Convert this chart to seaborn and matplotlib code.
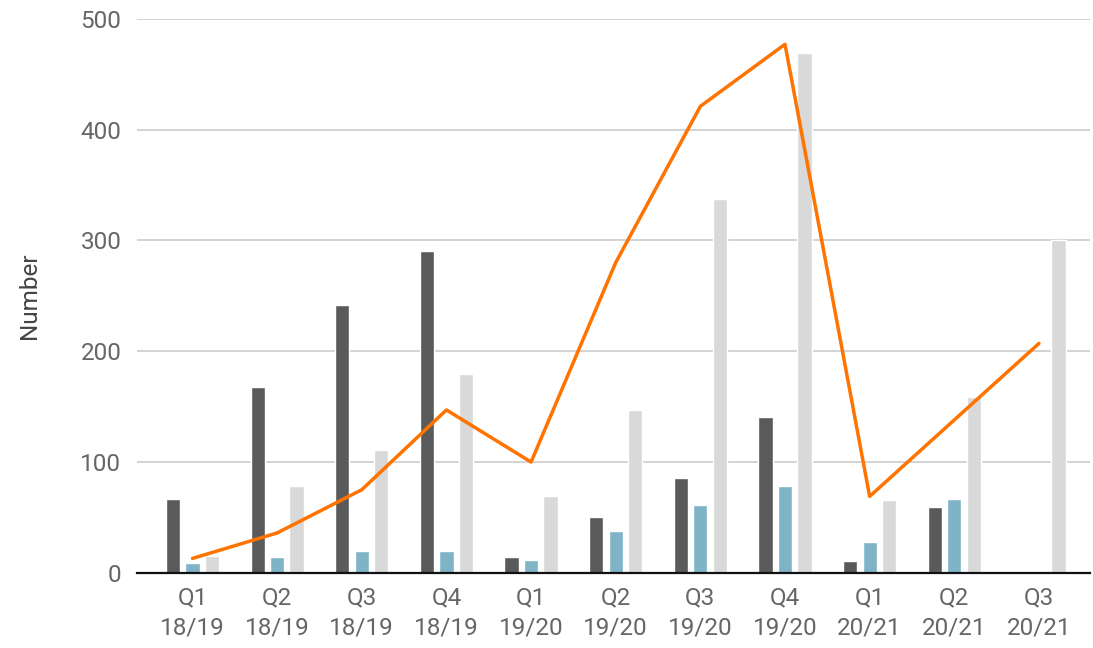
"""Quarterly numbers: three bar series plus an orange trend line."""
import matplotlib
matplotlib.use("Agg")
import matplotlib.pyplot as plt
import numpy as np
import pandas as pd
import seaborn as sns

quarters = ["Q1\n18/19", "Q2\n18/19", "Q3\n18/19", "Q4\n18/19",
            "Q1\n19/20", "Q2\n19/20", "Q3\n19/20", "Q4\n19/20",
            "Q1\n20/21", "Q2\n20/21", "Q3\n20/21"]
series_a = [67, 168, 242, 290, 14, 50, 86, 141, 11, 59, 0]
series_b = [9, 14, 20, 20, 12, 38, 61, 78, 28, 67, 0]
series_c = [15, 78, 111, 179, 69, 147, 337, 469, 66, 159, 300]
line_vals = [13, 36, 75, 147, 100, 280, 421, 477, 69, 138, 207]

bar_colors = {"a": "#5a5a5a", "b": "#7fb4c6", "c": "#d9d9d9"}

df = pd.DataFrame({
    "quarter": quarters * 3,
    "series": ["a"] * 11 + ["b"] * 11 + ["c"] * 11,
    "value": series_a + series_b + series_c,
})

sns.set_theme(style="white")
plt.rcParams["font.family"] = ["Roboto", "DejaVu Sans"]

fig = plt.figure(figsize=(10.93, 6.48), dpi=100)
ax = fig.add_axes([0.125, 0.116, 0.872, 0.855])

# light gridlines behind the bars
ax.set_axisbelow(True)
ax.yaxis.grid(True, color="#d0d0d0", linewidth=1.3)

sns.barplot(data=df, x="quarter", y="value", hue="series",
            hue_order=["a", "b", "c"], palette=bar_colors,
            width=0.69, gap=0.27, legend=False, ax=ax, saturation=1)

sns.lineplot(x=np.arange(len(quarters)), y=line_vals, color="#ff7300",
             linewidth=2.5, ax=ax, legend=False)

ax.set_ylim(0, 500)
ax.set_xlim(-0.66, 10.6)
ax.set_yticks(range(0, 501, 100))
ax.set_xlabel("")
ax.set_ylabel("Number", fontsize=17.5, color="#444444", labelpad=28)
ax.tick_params(axis="both", length=0, labelsize=17.5, labelcolor="#666666")
ax.tick_params(axis="y", pad=11)
ax.tick_params(axis="x", pad=10)
for lbl in ax.get_xticklabels():
    lbl.set_linespacing(1.35)

for side in ["top", "right", "left"]:
    ax.spines[side].set_visible(False)
ax.spines["bottom"].set_color("#111111")
ax.spines["bottom"].set_linewidth(1.6)

fig.savefig("out.png", dpi=100)
